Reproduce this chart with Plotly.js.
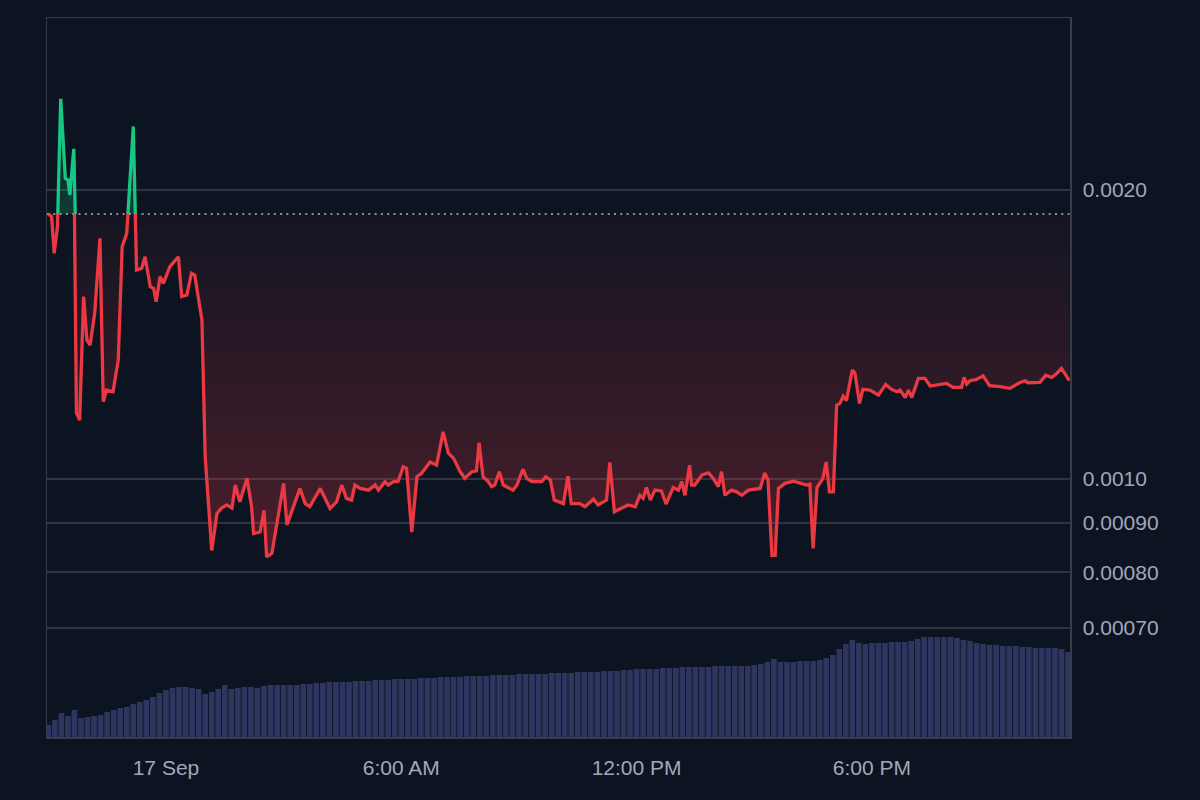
<!DOCTYPE html>
<html><head><meta charset="utf-8">
<script src="https://cdn.plot.ly/plotly-3.0.1.min.js"></script>
<style>html,body{margin:0;padding:0;background:#0d1421;}</style>
</head><body><div id="chart" style="width:1200px;height:800px;"></div>
<script>
// ---- data ----
const startTime = Date.UTC(2024, 8, 16, 21, 0); // 16 Sep 21:00
const priceMinutes = [0,5,9,14,19,26,30,33,39,43,48,54,59,64,71,79,84,89,99,107,113,120,130,135,143,148,156,161,165,171,176,186,199,204,212,219,224,235,240,250,258,265,273,281,286,293,304,311,314,324,330,334,342,360,365,385,393,400,416,423,431,441,449,456,464,469,477,490,500,505,515,520,528,535,543,548,556,564,571,584,594,604,612,620,630,637,648,655,659,665,673,678,683,690,696,711,717,726,732,740,755,761,768,774,788,795,800,813,821,834,841,854,859,866,875,887,898,905,910,915,921,928,938,945,956,964,969,974,981,984,989,1000,1010,1017,1025,1030,1035,1045,1053,1061,1071,1089,1096,1101,1107,1112,1117,1127,1140,1153,1160,1165,1170,1176,1185,1190,1195,1201,1206,1211,1216,1221,1230,1234,1241,1246,1257,1270,1281,1290,1298,1303,1311,1316,1321,1331,1341,1349,1374,1384,1397,1401,1405,1410,1420,1430,1440,1456,1471,1487,1494,1499,1517,1526,1535,1543,1550,1562];
const prices = [0.001888,0.001876,0.001718,0.001832,0.002488,0.002057,0.002049,0.001976,0.002207,0.001172,0.001152,0.001549,0.001396,0.001379,0.001489,0.001781,0.001204,0.001238,0.001233,0.001330,0.001746,0.001803,0.002328,0.001651,0.001658,0.001704,0.001586,0.001580,0.001530,0.001625,0.001599,0.001664,0.001704,0.001549,0.001555,0.001638,0.001631,0.001464,0.001055,0.000843,0.000921,0.000933,0.000940,0.000933,0.000986,0.000947,0.001002,0.000936,0.000878,0.000881,0.000928,0.000830,0.000837,0.000990,0.000896,0.000978,0.000943,0.000936,0.000978,0.000958,0.000932,0.000947,0.000986,0.000955,0.000951,0.000986,0.000978,0.000974,0.000986,0.000974,0.000994,0.000986,0.000994,0.000994,0.001030,0.001026,0.000881,0.001006,0.001014,0.001042,0.001034,0.001120,0.001064,0.001051,0.001018,0.001002,0.001018,0.001020,0.001091,0.001006,0.000994,0.000982,0.000986,0.001018,0.000986,0.000974,0.000986,0.001024,0.001002,0.000994,0.000994,0.001006,0.000998,0.000951,0.000943,0.001007,0.000943,0.000943,0.000936,0.000953,0.000940,0.000951,0.001041,0.000925,0.000932,0.000940,0.000936,0.000962,0.000955,0.000980,0.000951,0.000974,0.000972,0.000942,0.000980,0.000974,0.000994,0.000962,0.001034,0.000986,0.000986,0.001010,0.001015,0.001002,0.000982,0.001018,0.000962,0.000974,0.000970,0.000962,0.000974,0.000978,0.001015,0.000998,0.000833,0.000833,0.000978,0.000990,0.000995,0.000990,0.000986,0.000988,0.000847,0.000980,0.001002,0.001042,0.000970,0.000970,0.001194,0.001199,0.001220,0.001207,0.001299,0.001289,0.001199,0.001240,0.001238,0.001223,0.001255,0.001240,0.001233,0.001238,0.001216,0.001238,0.001216,0.001273,0.001273,0.001250,0.001258,0.001246,0.001246,0.001276,0.001256,0.001266,0.001270,0.001281,0.001251,0.001248,0.001243,0.001261,0.001266,0.001260,0.001261,0.001283,0.001276,0.001289,0.001304,0.001266];
const volumeStepMinutes = 10;
const volumes = [12,17,24,21,27,19,20,21,22,25, 27,29,30,33,35,37,40,44,47,49, 50,50,49,48,43,45,48,52,48,49, 50,50,49,51,52,52,52,52,52,53, 53,54,54,55,55,55,55,56,56,56, 57,57,57,58,58,58,58,59,59,59, 60,60,60,60,61,61,61,61,62,62, 62,62,63,63,63,63,63,64,64,64, 64,65,65,65,65,66,66,66,67,67, 68,68,68,68,69,69,69,70,70,70, 70,70,71,71,71,71,71,71,72,73, 75,78,75,75,75,76,76,76,77,79, 82,88,93,97,94,93,94,94,94,95, 95,95,96,98,100,100,100,100,100,99, 97,96,94,93,92,92,91,91,91,90, 90,89,89,89,89,88,85];
const yTickVals = [0.0020, 0.0010, 0.00090, 0.00080, 0.00070];
const yTickText = ['0.0020', '0.0010', '0.00090', '0.00080', '0.00070'];
const xTickVals = ['2024-09-17 00:00', '2024-09-17 06:00', '2024-09-17 12:00', '2024-09-17 18:00'];
const xTickText = ['17 Sep', '6:00 AM', '12:00 PM', '6:00 PM'];

// ---- helpers ----
function fmt(ms){ return new Date(ms).toISOString().replace('T',' ').slice(0,19); }
const priceTimes = priceMinutes.map(m => fmt(startTime + m*60000));
const volumeTimes = volumes.map((v,i) => fmt(startTime + i*volumeStepMinutes*60000));
const base = prices[0];
const lo = 0.000539, hi = 0.00302;
const L = Math.log10;
const fb = (L(base) - L(lo)) / (L(hi) - L(lo));
const xRange = ['2024-09-16 20:58', '2024-09-17 23:03'];

const RED = '#ea3943', GREEN = '#16c784';
const tickFont = {family: 'Liberation Sans, Arial, sans-serif', size: 21, color: '#a1a7bb'};

const traces = [
  {x: volumeTimes, y: volumes, type: 'bar', yaxis: 'y4', marker: {color: '#2e3660', line: {width: 0}}, hoverinfo: 'skip'},
  {x: priceTimes, y: priceTimes.map(() => base), mode: 'lines', line: {width: 0}, hoverinfo: 'skip'},
  {x: priceTimes, y: prices.map(p => Math.min(p, base)), mode: 'lines', line: {width: 0}, fill: 'tonexty',
   fillgradient: {type: 'vertical', colorscale: [[0, 'rgba(234,57,67,0.28)'], [1, 'rgba(234,57,67,0.03)']]}, hoverinfo: 'skip'},
  {x: priceTimes, y: priceTimes.map(() => base), mode: 'lines', line: {width: 0}, hoverinfo: 'skip'},
  {x: priceTimes, y: prices.map(p => Math.max(p, base)), mode: 'lines', line: {width: 0}, fill: 'tonexty',
   fillgradient: {type: 'vertical', colorscale: [[0, 'rgba(22,199,132,0.22)'], [1, 'rgba(22,199,132,0.04)']]}, hoverinfo: 'skip'},
  {x: xRange, y: [base, base], mode: 'lines', line: {color: '#b4b9c3', width: 1.6, dash: '2px,4.3px'}, hoverinfo: 'skip'},
  {x: priceTimes, y: prices, mode: 'lines', yaxis: 'y2', line: {color: RED, width: 3.3}, hoverinfo: 'skip'},
  {x: priceTimes, y: prices, mode: 'lines', yaxis: 'y3', line: {color: GREEN, width: 3.3}, hoverinfo: 'skip'}
];

const layout = {
  width: 1200, height: 800,
  paper_bgcolor: '#0d1421', plot_bgcolor: 'rgba(0,0,0,0)',
  margin: {l: 47, r: 130, t: 18, b: 63},
  showlegend: false, bargap: 0.14,
  xaxis: {type: 'date', range: xRange, tickvals: xTickVals, ticktext: xTickText, showgrid: false, zeroline: false,
          showline: true, mirror: true, linecolor: '#363c4a', linewidth: 1.5, ticks: '', tickfont: tickFont,
          ticklabelstandoff: 11, anchor: 'y'},
  yaxis: {type: 'log', range: [L(lo), L(hi)], side: 'right', tickvals: yTickVals, ticktext: yTickText,
          gridcolor: '#2f3442', gridwidth: 1.5, showline: true, mirror: true, linecolor: '#363c4a', linewidth: 1.5,
          ticks: '', tickfont: tickFont, ticklabelstandoff: 7, zeroline: false, domain: [0, 1]},
  yaxis2: {type: 'log', range: [L(lo), L(base)], domain: [0, fb], visible: false, anchor: 'x', showgrid: false},
  yaxis3: {type: 'log', range: [L(base), L(hi)], domain: [fb, 1], visible: false, anchor: 'x', showgrid: false},
  yaxis4: {overlaying: 'y', range: [0, Math.max(...volumes) * 7.19], visible: false, showgrid: false}
};

Plotly.newPlot('chart', traces, layout, {displayModeBar: false, staticPlot: true});
</script></body></html>
